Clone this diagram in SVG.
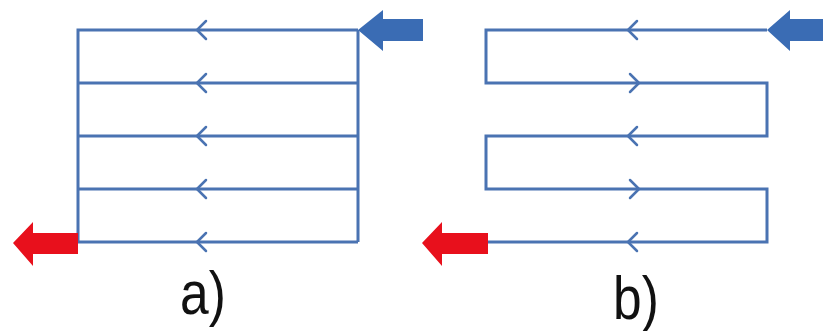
<svg xmlns="http://www.w3.org/2000/svg" width="823" height="331" viewBox="0 0 823 331">
<style>
.ln{fill:none;stroke:#4a73b2;stroke-width:3;stroke-linejoin:miter}
.chev{fill:none;stroke:#4a73b2;stroke-width:2.5;stroke-linecap:round;stroke-linejoin:round}
.blue{fill:#3a6cb4}
.red{fill:#e8101c}
.lbl{font-family:"Liberation Sans",Arial,sans-serif;font-size:56px;fill:#111}
</style>
<rect width="823" height="331" fill="#fff"/>
<g id="connectors">
  <g id="a-lines">
    <path class="ln" d="M358,30 H78 V242 M78,83 H358 M78,136 H358 M78,189 H358 M78,242 H358 M358,30 V242"/>
    <path class="chev" d="M206,21 L197,30 L206,39 M206,74 L197,83 L206,92 M206,127 L197,136 L206,145 M206,180 L197,189 L206,198 M206,233 L197,242 L206,251"/>
  </g>
  <g id="b-lines">
    <path class="ln" d="M767,30 H486 V83 H767 V136 H486 V189 H767 V242 H486"/>
    <path class="chev" d="M637,21 L628,30 L637,39 M630,74 L639,83 L630,92 M637,127 L628,136 L637,145 M630,180 L639,189 L630,198 M637,233 L628,242 L637,251"/>
  </g>
</g>
<g id="a-in"><path class="blue" d="M358,30 L383,10 L383,19 L423,19 L423,41 L383,41 L383,51 Z"/></g>
<g id="a-out"><path class="red" d="M13,243 L33,222 L33,233 L78,233 L78,254 L33,254 L33,266 Z"/></g>
<g id="b-in"><path class="blue" d="M767,30 L790,10 L790,19 L823,19 L823,41 L790,41 L790,51 Z"/></g>
<g id="b-out"><path class="red" d="M422,243 L442,222 L442,233 L488,233 L488,254 L442,254 L442,266 Z"/></g>
<g id="label-a"><text class="lbl" transform="translate(203,314) scale(0.92,1.08)" text-anchor="middle">a)</text></g>
<g id="label-b"><text class="lbl" transform="translate(636,319) scale(0.92,1.08)" text-anchor="middle">b)</text></g>
</svg>
